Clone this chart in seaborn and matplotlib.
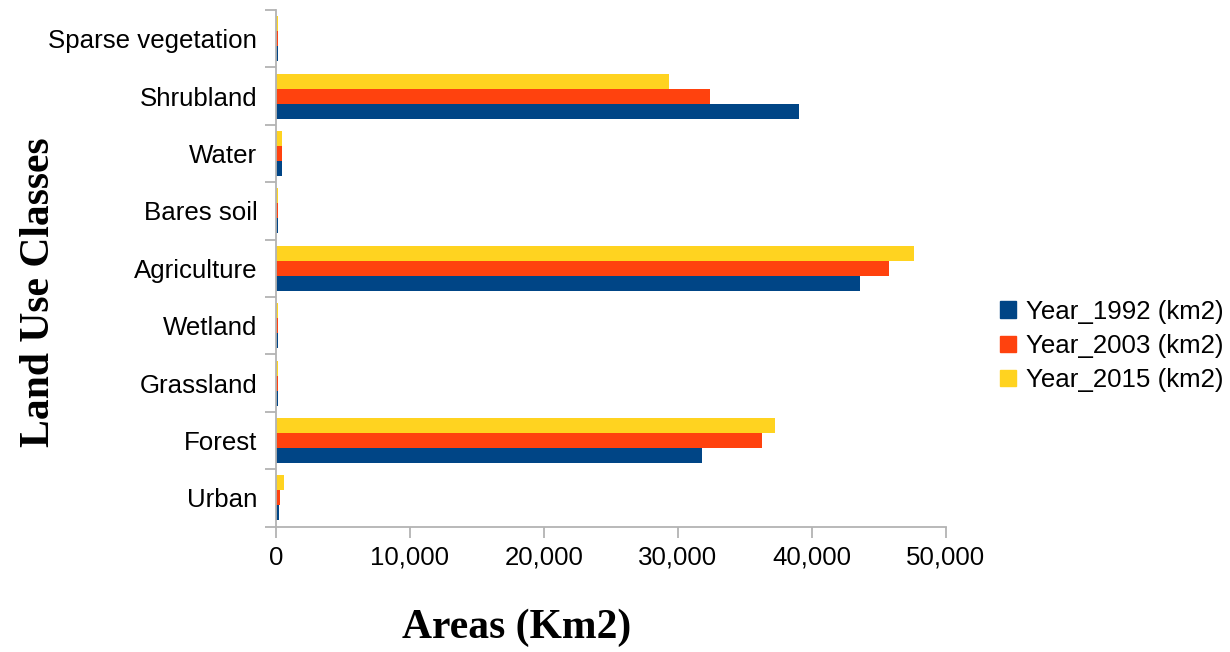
import matplotlib
matplotlib.use("Agg")
import matplotlib.pyplot as plt
from matplotlib.patches import Patch
from matplotlib.ticker import FuncFormatter, FixedLocator
import seaborn as sns
import pandas as pd

# Land use classes, bottom to top as displayed
classes = ["Urban", "Forest", "Grassland", "Wetland", "Agriculture",
           "Bares soil", "Water", "Shrubland", "Sparse vegetation"]
years = ["Year_1992 (km2)", "Year_2003 (km2)", "Year_2015 (km2)"]
area_1992 = [220, 31800, 120, 120, 43600, 120, 450, 39000, 120]
area_2003 = [300, 36250, 120, 120, 45750, 120, 450, 32400, 120]
area_2015 = [600, 37250, 120, 120, 47600, 120, 450, 29350, 120]
colors = ["#004586", "#ff420e", "#ffd320"]

rows = []
for year, vals in zip(years, [area_1992, area_2003, area_2015]):
    for cls, v in zip(classes, vals):
        rows.append({"Class": cls, "Year": year, "Area": v})
df = pd.DataFrame(rows)

sns.set_style("white")
plt.rcParams["font.family"] = ["Liberation Sans", "DejaVu Sans"]
plt.rcParams["text.color"] = "black"
plt.rcParams["axes.labelcolor"] = "black"

fig = plt.figure(figsize=(12.3, 6.52), dpi=100)
ax = fig.add_axes([276 / 1230, 1 - 526.5 / 652, 670 / 1230, 516.5 / 652])

palette = dict(zip(years, colors))
sns.barplot(data=df, y="Class", x="Area", hue="Year",
            order=classes[::-1], hue_order=years[::-1],
            palette=palette, orient="h", width=0.784,
            saturation=1, errorbar=None, legend=False, linewidth=0,
            ax=ax)

ax.set_xlim(0, 50000)
ax.set_ylim(8.5, -0.5)
ax.xaxis.set_major_locator(FixedLocator([0, 10000, 20000, 30000, 40000, 50000]))
ax.xaxis.set_major_formatter(FuncFormatter(lambda v, p: f"{int(v):,}"))

# category separators as minor ticks on the y axis
ax.yaxis.set_minor_locator(FixedLocator([i + 0.5 for i in range(-1, 9)]))
ax.tick_params(axis="y", which="major", length=0, pad=13.5, labelsize=18.6,
               labelcolor="black")
ax.tick_params(axis="y", which="minor", length=8, width=1.3, color="#b3b3b3",
               left=True)
ax.tick_params(axis="x", which="major", length=8, width=1.3, color="#b3b3b3",
               bottom=True, pad=6, labelsize=18.6, labelcolor="black")

for side in ["top", "right"]:
    ax.spines[side].set_visible(False)
for side in ["left", "bottom"]:
    ax.spines[side].set_color("#b3b3b3")
    ax.spines[side].set_linewidth(1.3)

ax.set_xlabel("Areas (Km2)", fontsize=30, fontweight="bold", color="black",
              family=["Liberation Serif", "DejaVu Serif"])
ax.xaxis.set_label_coords((517 - 276) / 670, (526.5 - 628) / 516.5)
ax.xaxis.label.set_va("center")
ax.set_ylabel("Land Use Classes", fontsize=30, fontweight="bold", color="black",
              family=["Liberation Serif", "DejaVu Serif"])
ax.yaxis.set_label_coords((39 - 276) / 670, (526.5 - 292) / 516.5)
ax.yaxis.label.set_va("center")

handles = [Patch(facecolor=c, edgecolor=c, label=y) for y, c in zip(years, colors)]
fig.legend(handles=handles, loc="center left",
           bbox_to_anchor=(990 / 1230, 1 - 346 / 652), frameon=False,
           fontsize=18.6, handlelength=0.6, handleheight=0.6,
           handletextpad=0.4, labelspacing=0.4, borderaxespad=0)

fig.savefig("out.png", dpi=100)
